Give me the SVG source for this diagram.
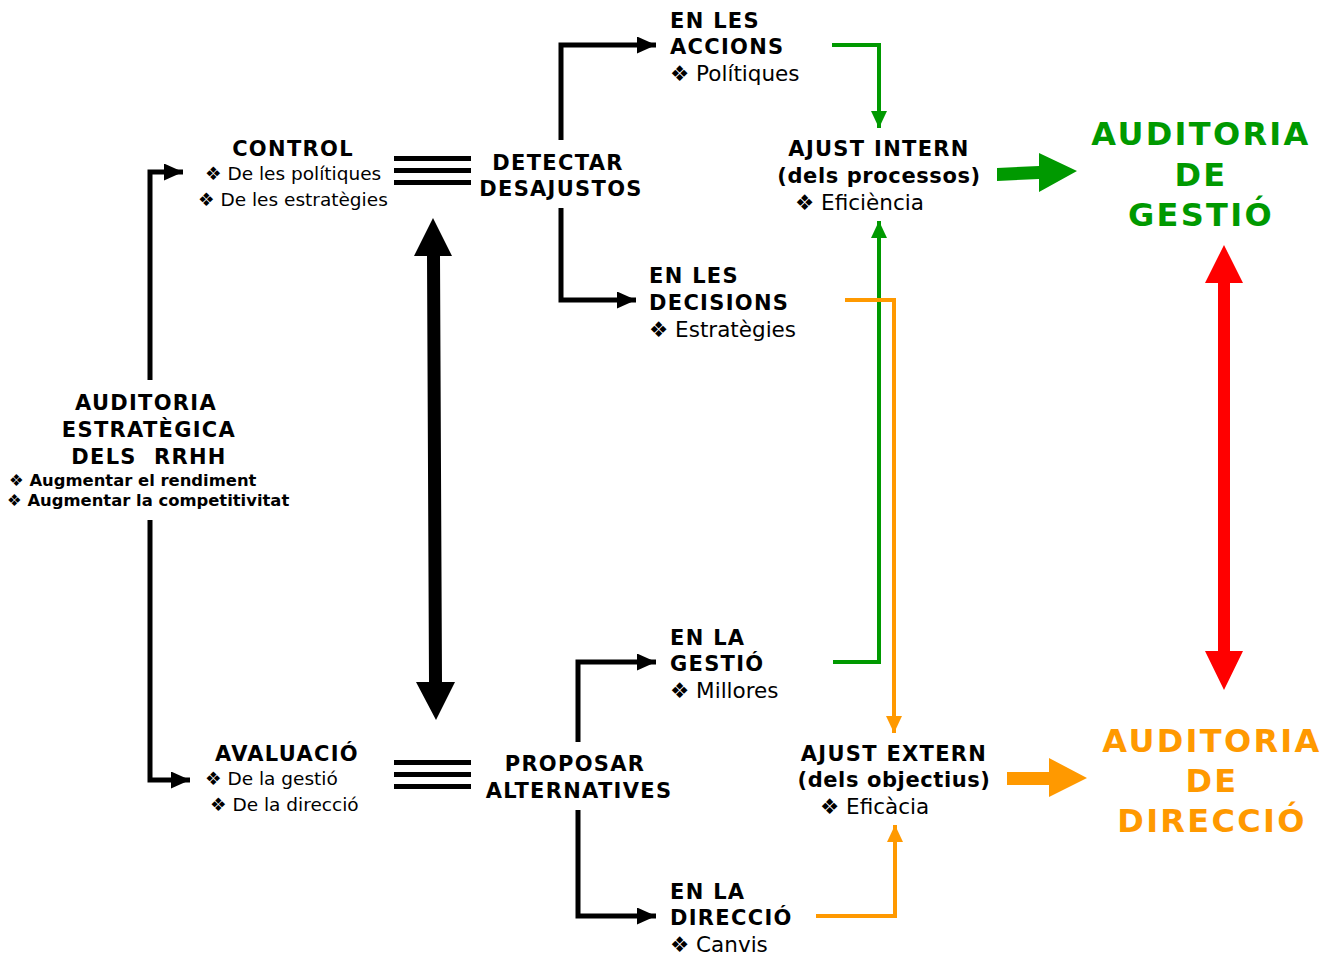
<svg xmlns="http://www.w3.org/2000/svg" width="1332" height="956" viewBox="0 0 1332 956">
<defs>
<style>
text{font-family:"DejaVu Sans","Verdana",sans-serif;fill:#000}
.h{font-weight:bold;font-size:21px;letter-spacing:1.3px}
.p{letter-spacing:0.6px}
.s{font-size:18.5px}
.s2{font-size:21.5px}
.b{font-weight:bold;font-size:16.4px}
.big{font-weight:bold;font-size:32px;letter-spacing:2.3px}
.m{text-anchor:middle}
.k{fill:none;stroke:#000;stroke-width:5}
.g{fill:none;stroke:#009900;stroke-width:4}
.o{fill:none;stroke:#FF9900;stroke-width:4}
</style>
<marker id="ak" viewBox="0 0 10 10" refX="10" refY="5" markerWidth="19" markerHeight="17" markerUnits="userSpaceOnUse" orient="auto" preserveAspectRatio="none"><path d="M0,0 L10,5 L0,10 Z" fill="#000"/></marker>
<marker id="ag" viewBox="0 0 10 10" refX="10" refY="5" markerWidth="17" markerHeight="16" markerUnits="userSpaceOnUse" orient="auto" preserveAspectRatio="none"><path d="M0,0 L10,5 L0,10 Z" fill="#009900"/></marker>
<marker id="ao" viewBox="0 0 10 10" refX="10" refY="5" markerWidth="17" markerHeight="16" markerUnits="userSpaceOnUse" orient="auto" preserveAspectRatio="none"><path d="M0,0 L10,5 L0,10 Z" fill="#FF9900"/></marker>
</defs>
<rect width="1332" height="956" fill="#fff"/>

<g id="connectors">
<path class="k" d="M150,380 V172 H183" marker-end="url(#ak)"/>
<path class="k" d="M150,520 V780 H190" marker-end="url(#ak)"/>
<path class="k" d="M561,140 V45 H656" marker-end="url(#ak)"/>
<path class="k" d="M561,208 V300 H636" marker-end="url(#ak)"/>
<path class="k" d="M578,742 V662 H656" marker-end="url(#ak)"/>
<path class="k" d="M578,810 V916 H656" marker-end="url(#ak)"/>
<g fill="#000">
<rect x="394" y="156" width="77" height="5"/>
<rect x="394" y="168" width="77" height="5"/>
<rect x="394" y="180" width="77" height="5"/>
<rect x="394" y="760" width="77" height="5"/>
<rect x="394" y="772" width="77" height="5"/>
<rect x="394" y="784" width="77" height="5"/>
<polygon points="433,218 452,256 440,256 442,682 455,682 436,720 416,682 429,682 427,256 414,256"/>
</g>
<path class="g" d="M832,45 H879 V128" marker-end="url(#ag)"/>
<path class="g" d="M833,662 H879 V221" marker-end="url(#ag)"/>
<path class="o" d="M845,300 H894 V733" marker-end="url(#ao)"/>
<path class="o" d="M816,916 H895 V825" marker-end="url(#ao)"/>
<polygon fill="#009900" points="997,168 1039,166 1039,153 1077,171 1039,192 1039,179 997,181"/>
<polygon fill="#FF9900" points="1007,772 1049,772 1049,758 1087,778 1049,797 1049,785 1007,785"/>
<polygon fill="#FF0000" points="1224,245 1243,283 1230,283 1230,651 1243,651 1224,690 1205,651 1218,651 1218,283 1205,283"/>
</g>

<g id="auditoria-estrategica">
<text class="h m" x="146" y="410">AUDITORIA</text>
<text class="h m" x="149" y="437">ESTRATÈGICA</text>
<text class="h m" x="149" y="464" xml:space="preserve">DELS  RRHH</text>
<text class="b" x="9" y="486">❖ Augmentar el rendiment</text>
<text class="b" x="7" y="506">❖ Augmentar la competitivitat</text>
</g>

<g id="control">
<text class="h m" x="293" y="156">CONTROL</text>
<text class="s" x="205" y="180">❖ De les polítiques</text>
<text class="s" x="198" y="206">❖ De les estratègies</text>
</g>

<g id="avaluacio">
<text class="h m" x="287" y="761">AVALUACIÓ</text>
<text class="s" x="205" y="785">❖ De la gestió</text>
<text class="s" x="210" y="811">❖ De la direcció</text>
</g>

<g id="detectar">
<text class="h m" x="558" y="170">DETECTAR</text>
<text class="h m" x="561" y="196">DESAJUSTOS</text>
</g>

<g id="proposar">
<text class="h m" x="575" y="771">PROPOSAR</text>
<text class="h m" x="579" y="798">ALTERNATIVES</text>
</g>

<g id="accions">
<text class="h" x="670" y="28">EN LES</text>
<text class="h" x="670" y="54">ACCIONS</text>
<text class="s2" x="670" y="81">❖ Polítiques</text>
</g>

<g id="decisions">
<text class="h" x="649" y="283">EN LES</text>
<text class="h" x="649" y="310">DECISIONS</text>
<text class="s2" x="649" y="337">❖ Estratègies</text>
</g>

<g id="gestio">
<text class="h" x="670" y="645">EN LA</text>
<text class="h" x="670" y="671">GESTIÓ</text>
<text class="s2" x="670" y="698">❖ Millores</text>
</g>

<g id="direccio">
<text class="h" x="670" y="899">EN LA</text>
<text class="h" x="670" y="925">DIRECCIÓ</text>
<text class="s2" x="670" y="952">❖ Canvis</text>
</g>

<g id="ajust-intern">
<text class="h m" x="879" y="156">AJUST INTERN</text>
<text class="h m p" x="879" y="183">(dels processos)</text>
<text class="s2" x="795" y="210">❖ Eficiència</text>
</g>

<g id="ajust-extern">
<text class="h m" x="894" y="761">AJUST EXTERN</text>
<text class="h m p" x="894" y="787">(dels objectius)</text>
<text class="s2" x="820" y="814">❖ Eficàcia</text>
</g>

<g id="auditoria-gestio">
<text class="big m" x="1201" y="145" style="fill:#009900">AUDITORIA</text>
<text class="big m" x="1201" y="186" style="fill:#009900">DE</text>
<text class="big m" x="1201" y="226" style="fill:#009900">GESTIÓ</text>
</g>

<g id="auditoria-direccio">
<text class="big m" x="1212" y="752" style="fill:#FF9900">AUDITORIA</text>
<text class="big m" x="1212" y="792" style="fill:#FF9900">DE</text>
<text class="big m" x="1212" y="832" style="fill:#FF9900">DIRECCIÓ</text>
</g>
</svg>
